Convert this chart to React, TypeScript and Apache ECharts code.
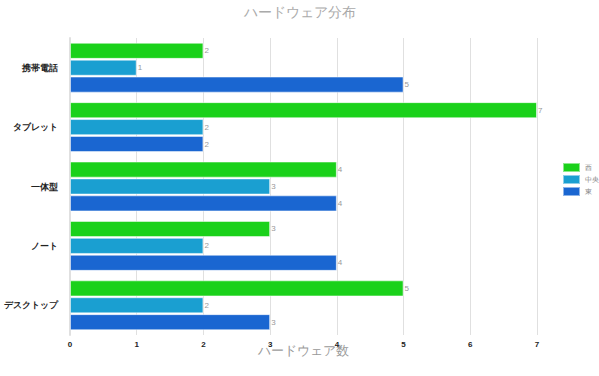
import React, { useEffect, useRef } from "react";
import * as echarts from "echarts";

const categories = ["携帯電話", "タブレット", "一体型", "ノート", "デスクトップ"];
const seriesNames = ["西", "中央", "東"];
const westValues = [2, 7, 4, 3, 5];
const centralValues = [1, 2, 3, 2, 2];
const eastValues = [5, 2, 4, 4, 3];
const colors = ["#1ad11a", "#1a9fd1", "#1a66d1"];

export default function App() {
  const ref = useRef<HTMLDivElement>(null);
  useEffect(() => {
    if (!ref.current) return;
    const chart = echarts.init(ref.current, undefined, { renderer: "svg" });
    const values = [westValues, centralValues, eastValues];
    chart.setOption({
      animation: false,
      backgroundColor: "#ffffff",
      title: {
        text: "ハードウェア分布",
        left: "center",
        top: 0,
        textStyle: { fontFamily: "serif", fontSize: 14, fontWeight: "normal", color: "#aaa" },
      },
      legend: {
        orient: "vertical",
        left: 562,
        top: 162,
        padding: 0,
        icon: "rect",
        itemWidth: 17,
        itemHeight: 9,
        itemGap: 1,
        textStyle: { fontSize: 7, color: "#888" },
        data: seriesNames,
      },
      grid: { left: 70, right: 62, top: 38, bottom: 41 },
      xAxis: {
        type: "value",
        min: 0,
        max: 7,
        interval: 1,
        name: "ハードウェア数",
        nameLocation: "middle",
        nameGap: 9,
        nameMoveOverlap: false,
        nameTextStyle: { fontSize: 13, color: "#999" },
        axisLine: { show: false },
        axisTick: { show: false },
        axisLabel: { fontSize: 8, fontWeight: "bold", color: "#222", margin: 5 },
        splitLine: { lineStyle: { color: "#e0e0e0" } },
      },
      yAxis: {
        type: "category",
        inverse: true,
        data: categories,
        axisLine: { show: true, lineStyle: { color: "#e0e0e0", width: 2 } },
        axisTick: { show: false },
        axisLabel: { fontSize: 8.5, fontWeight: "bold", color: "#222", margin: 12 },
      },
      series: seriesNames.map((name, i) => ({
        name,
        type: "bar",
        data: values[i],
        barGap: "5%",
        barCategoryGap: "16%",
        itemStyle: { color: colors[i], borderColor: "rgba(255,255,255,0.5)", borderWidth: 1 },
        label: { show: true, position: "right", distance: 1, fontSize: 8, color: "#999" },
      })),
    });
    return () => chart.dispose();
  }, []);
  return <div ref={ref} style={{ position: "fixed", left: 0, top: 0, width: 599, height: 376 }} />;
}
